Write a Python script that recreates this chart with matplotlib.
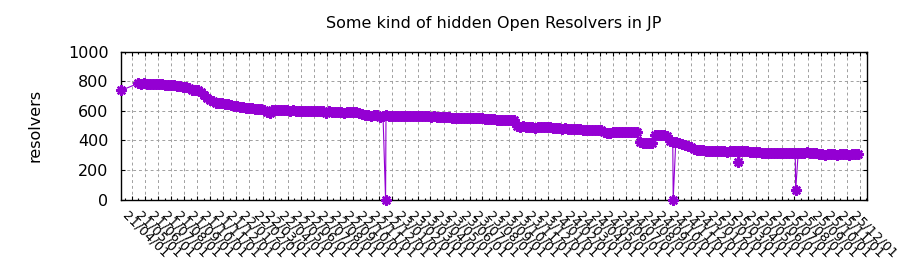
import matplotlib
matplotlib.use('Agg')
import matplotlib.pyplot as plt
import matplotlib.dates as mdates
import matplotlib.ticker as mticker
import matplotlib.transforms as mtransforms
import pandas as pd

TITLE = "Some kind of hidden Open Resolvers in JP"
YLABEL = "resolvers"

first_date = "2021-03-06"
first_value = 738

weekly_start = "2021-04-15"
weekly_values = [
    785, 783, 787, 782, 784, 780, 783, 781,
    779, 778, 776, 775, 772, 770, 767, 764,
    758, 756, 742, 740, 738,
    728, 710, 690, 675, 664,
    656, 652, 650, 646, 644,
    638, 634, 631, 628, 625, 622, 620,
    616, 614, 612, 610, 608,
    592, 588, 605, 606, 604, 603, 605, 604, 602, 603, 601, 602, 600, 600, 599, 598, 597, 598,
    597, 596, 586, 596, 595, 593, 594, 595, 587, 594, 593, 592, 590,
    582, 578,
    572, 570, 562, 569, 572, 561, 568, 570,
    566, 567, 565, 566, 564, 565, 563, 566, 564, 565, 563, 564, 562, 563, 561, 562, 560, 561, 560, 559,
    555, 554, 553, 554, 552, 553, 551, 552, 550, 551, 549, 550, 548, 547,
    543, 542, 541, 540, 539, 538, 537, 538, 536,
    500,
    493, 494, 492, 491, 493, 482, 490, 491, 489, 490, 488,
    482, 481, 483, 480, 481, 479, 480, 478, 479, 477,
    472, 471, 470, 469, 470, 468, 467,
    455, 448, 452, 458, 460, 459, 460, 458, 459, 457, 458, 456,
    386, 384, 383, 385, 384,
    436, 437, 435, 434, 430,
    398,
    390, 388, 385,
    378, 366, 362, 355, 345, 338,
    334, 332, 330, 331, 329, 330,
    326, 325, 327, 324, 325, 326, 327, 328, 326, 327, 325, 324, 322, 321,
    318, 317, 316, 317, 316, 315, 316, 317, 316, 315, 316, 315, 316, 317,
    317, 316, 318, 317, 316, 315,
    306, 305, 304, 305, 306, 305, 304, 305, 306, 305, 304, 306, 305, 306,
]

outlier_dates = ["2022-11-16", "2024-09-20", "2025-02-20", "2025-07-04"]
outlier_values = [0, 0, 251, 62]

x_start = "2021-03-06"
x_end = "2025-12-17"
tick_start = "2021-04-01"
tick_end = "2025-12-01"
y_ticks = [0, 200, 400, 600, 800, 1000]

# build series
weekly_dates = pd.date_range(weekly_start, periods=len(weekly_values), freq="7D")
s = pd.Series(weekly_values, index=weekly_dates)
extra = pd.Series([first_value] + outlier_values,
                  index=pd.to_datetime([first_date] + outlier_dates))
s = pd.concat([s, extra]).sort_index()

plt.rcParams['font.family'] = ['DejaVu Sans']
fig = plt.figure(figsize=(9, 2.8), dpi=100)
ax = fig.add_axes([121 / 900, 1 - 199.5 / 280, (866.5 - 121) / 900, (199.5 - 51.7) / 280])

ax.plot(s.index, s.values, color="#9400d3", lw=0.8, marker=(8, 2, 0), ms=7.5, mew=1.7,
        clip_on=False, zorder=3)

ax.set_xlim(pd.Timestamp(x_start), pd.Timestamp(x_end))
ax.set_ylim(0, 1000)

major_ticks = pd.date_range(tick_start, tick_end, freq="MS")
ax.xaxis.set_major_locator(mticker.FixedLocator(mdates.date2num(major_ticks)))
ax.xaxis.set_minor_locator(mdates.DayLocator(bymonthday=16))
ax.xaxis.set_major_formatter(mdates.DateFormatter("%y/%m/%d"))
ax.set_yticks(y_ticks)

ax.tick_params(axis="both", which="both", direction="in", top=True, right=True,
               colors="black")
ax.tick_params(axis="y", labelsize=11.5, pad=9)
ax.tick_params(axis="x", labelsize=9.5, pad=7)
ax.tick_params(which="major", length=3, width=0.8)
ax.tick_params(which="minor", length=1.5, width=0.8)
shift = mtransforms.ScaledTranslation(-3 / 100, 0, fig.dpi_scale_trans)
for lbl in ax.get_xticklabels():
    lbl.set_rotation(-45)
    lbl.set_ha("left")
    lbl.set_va("top")
    lbl.set_rotation_mode("anchor")
    lbl.set_transform(lbl.get_transform() + shift)

ax.grid(True, which="major", color="#a0a0a0", linestyle=(0, (3, 3)), linewidth=0.7, zorder=0)
for sp in ax.spines.values():
    sp.set_linewidth(1.0)
    sp.set_color("black")

ax.set_title(TITLE, fontsize=11.5, pad=17)
ax.set_ylabel(YLABEL, fontsize=11.5)
ax.yaxis.set_label_coords((43 - 121) / 745.5, 0.5)

fig.savefig("out.png", dpi=100)
